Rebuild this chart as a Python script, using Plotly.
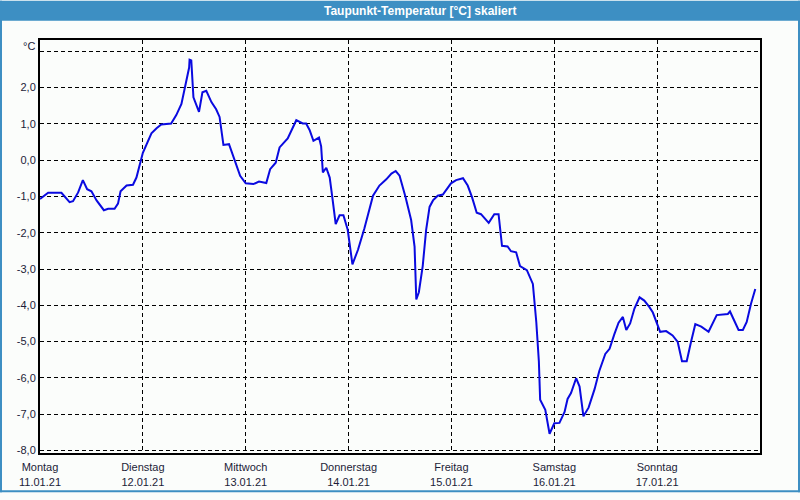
import plotly.graph_objects as go

# Hours since Monday 11.01.21 00:00 and dew point temperature (°C)
hours = [0.0, 1.9, 5.0, 6.9, 7.7, 8.9, 10.0, 11.0, 12.0, 13.2, 14.9, 15.9, 17.4, 18.2, 18.8,
         20.2, 21.7, 22.5, 24.0, 24.8, 26.0, 27.2, 28.3, 30.6, 31.8, 33.0, 34.0, 34.8, 34.9,
         35.3, 35.8, 37.1, 37.9, 38.8, 40.0, 41.1, 41.9, 42.8, 44.1, 45.4, 46.7, 48.0, 49.8,
         51.1, 52.8, 53.7, 55.0, 55.9, 57.8, 59.8, 61.3, 62.1, 62.9, 63.8, 65.1, 65.6, 66.0,
         66.8, 67.6, 68.2, 69.0, 69.9, 70.8, 71.8, 72.9, 74.2, 75.7, 77.7, 79.2, 80.8, 82.0,
         83.0, 83.9, 85.3, 86.6, 87.4, 87.8, 88.4, 89.3, 90.1, 90.9, 91.7, 92.8, 94.0, 95.9,
         97.1, 98.7, 99.8, 100.8, 101.9, 102.9, 104.7, 106.0, 107.0, 107.8, 109.1, 109.9,
         111.1, 112.0, 113.6, 115.0, 115.8, 116.4, 116.7, 117.9, 118.9, 120.0, 121.2, 122.4,
         123.1, 123.9, 125.1, 125.9, 126.8, 128.0, 129.4, 130.5, 131.9, 132.9, 134.0, 135.0,
         136.0, 136.8, 137.7, 138.7, 139.9, 141.0, 142.2, 143.0, 144.7, 146.1, 147.6, 148.8,
         149.8, 150.9, 151.9, 152.9, 154.3, 156.0, 157.9, 159.2, 160.5, 161.0, 163.0, 164.0,
         164.9, 165.9, 166.9]
temps = [-1.07, -0.90, -0.90, -1.16, -1.13, -0.89, -0.55, -0.80, -0.86, -1.11, -1.38, -1.34,
         -1.34, -1.20, -0.86, -0.70, -0.68, -0.48, 0.20, 0.42, 0.74, 0.88, 0.98, 1.01, 1.24,
         1.55, 2.14, 2.55, 2.77, 2.75, 1.73, 1.33, 1.87, 1.91, 1.60, 1.40, 1.19, 0.42, 0.44,
         0.02, -0.43, -0.64, -0.66, -0.59, -0.63, -0.25, -0.07, 0.35, 0.60, 1.10, 1.01, 1.01,
         0.83, 0.53, 0.62, 0.38, -0.34, -0.21, -0.48, -1.02, -1.76, -1.52, -1.52, -1.92, -2.87,
         -2.47, -1.88, -0.98, -0.70, -0.53, -0.37, -0.30, -0.43, -1.02, -1.65, -2.38, -3.84,
         -3.64, -2.92, -1.92, -1.29, -1.11, -0.98, -0.95, -0.64, -0.55, -0.50, -0.70, -1.02,
         -1.45, -1.49, -1.73, -1.49, -1.49, -2.36, -2.38, -2.51, -2.54, -2.92, -3.03, -3.41,
         -4.46, -5.54, -6.60, -6.88, -7.54, -7.25, -7.24, -6.94, -6.58, -6.42, -6.01, -6.24,
         -7.06, -6.82, -6.31, -5.81, -5.34, -5.20, -4.80, -4.48, -4.32, -4.68, -4.50, -4.09,
         -3.78, -3.87, -4.05, -4.20, -4.73, -4.71, -4.83, -5.01, -5.54, -5.54, -5.01, -4.52,
         -4.59, -4.73, -4.27, -4.25, -4.24, -4.17, -4.68, -4.68, -4.46, -3.96, -3.55]

day_ticks = [0, 24, 48, 72, 96, 120, 144]
day_names = ["Montag", "Dienstag", "Mittwoch", "Donnerstag", "Freitag", "Samstag", "Sonntag"]
day_dates = ["11.01.21", "12.01.21", "13.01.21", "14.01.21", "15.01.21", "16.01.21", "17.01.21"]
y_ticks = [-8, -7, -6, -5, -4, -3, -2, -1, 0, 1, 2, 3]
y_labels = ["-8,0", "-7,0", "-6,0", "-5,0", "-4,0", "-3,0", "-2,0", "-1,0", "0,0", "1,0", "2,0", ""]

title_text = "Taupunkt-Temperatur [°C] skaliert"
unit_text = "°C"

W, H = 800, 500
L, R, T, B = 40, 40, 40, 40
pw, ph = W - L - R, H - T - B

def px_x(p):
    return (p - L) / pw

def px_y(p):
    return (H - B - p) / ph

fig = go.Figure()
fig.add_trace(go.Scatter(x=hours, y=temps, mode="lines",
                         line=dict(color="#0a0ae0", width=2), hoverinfo="skip"))

font = dict(family="Liberation Sans, Arial, sans-serif", size=11, color="#1c1c38")

fig.update_layout(
    width=W, height=H,
    margin=dict(l=L, r=R, t=T, b=B),
    paper_bgcolor="#fbfdfb", plot_bgcolor="#fbfdfb",
    showlegend=False,
    font=font,
    xaxis=dict(range=[0, 168], tickvals=day_ticks,
               ticktext=[f"{n}<br>{d}" for n, d in zip(day_names, day_dates)],
               showgrid=True, gridcolor="black", gridwidth=1, griddash="4px,3px",
               showline=True, linecolor="black", linewidth=2, mirror=True,
               ticks="", zeroline=False, tickfont=font, ticklabelstandoff=3),
    yaxis=dict(range=[-8.07, 3.31], tickvals=y_ticks, ticktext=y_labels,
               showgrid=True, gridcolor="black", gridwidth=1, griddash="4px,3px",
               showline=True, linecolor="black", linewidth=2, mirror=True,
               ticks="", zeroline=False, tickfont=font),
    shapes=[
        # title bar
        dict(type="rect", xref="paper", yref="paper", x0=px_x(0), x1=px_x(W),
             y0=px_y(20.5), y1=px_y(0), fillcolor="#3d8fc3", line=dict(width=0), layer="above"),
        # outer border
        dict(type="rect", xref="paper", yref="paper", x0=px_x(0), x1=px_x(2),
             y0=px_y(H), y1=px_y(0), fillcolor="#3d8fc3", line=dict(width=0)),
        dict(type="rect", xref="paper", yref="paper", x0=px_x(W - 2), x1=px_x(W),
             y0=px_y(H), y1=px_y(0), fillcolor="#3d8fc3", line=dict(width=0)),
        dict(type="rect", xref="paper", yref="paper", x0=px_x(0), x1=px_x(W),
             y0=px_y(H), y1=px_y(H - 2), fillcolor="#3d8fc3", line=dict(width=0)),
    ],
    annotations=[
        dict(text=title_text, xref="paper", yref="paper", x=px_x(420), y=px_y(10.5),
             xanchor="center", yanchor="middle", showarrow=False,
             font=dict(family="Liberation Sans, Arial, sans-serif", size=12,
                       color="white", weight="bold")),
        dict(text=unit_text, xref="paper", yref="paper", x=px_x(36.5), y=px_y(46),
             xanchor="right", yanchor="middle", showarrow=False, font=font),
    ],
)

fig.write_html("out.html")
